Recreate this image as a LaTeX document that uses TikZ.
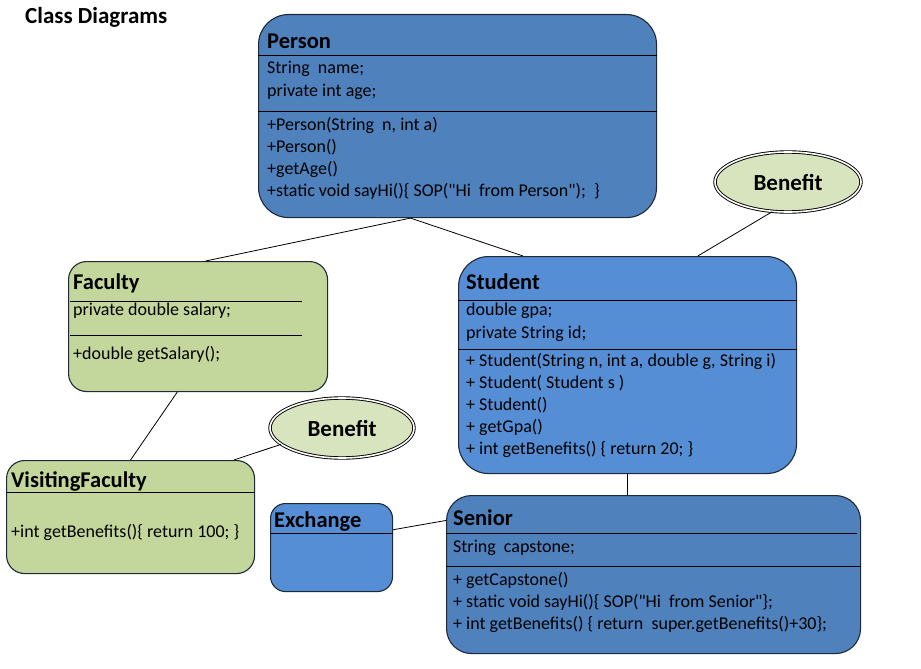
\documentclass[tikz,border=0pt]{standalone}
\usepackage{fontspec}
\setmainfont{Carlito}[Ligatures=TeXOff]
\usetikzlibrary{calc,shapes.geometric}
\definecolor{pblue}{HTML}{4F81BD}
\definecolor{sblue}{HTML}{558ED5}
\definecolor{fgreen}{HTML}{C3D69B}
\definecolor{bgreen}{HTML}{D7E4BD}
\definecolor{edge}{HTML}{1F2A38}
\tikzset{
  cls/.style={draw=edge, line width=1.1pt, rounded corners=#1, anchor=north west, inner sep=0pt},
  txt/.style={anchor=west, inner sep=0pt, font=\fontsize{18}{20}\selectfont, text=black},
  ttl/.style={anchor=west, inner sep=0pt, font=\fontsize{22.5}{24}\selectfont\bfseries, text=black},
  div/.style={draw=black, line width=0.9pt},
  link/.style={draw=black, line width=0.8pt},
  benefit/.style={ellipse, draw=black, line width=0.9pt, double=white, double distance=1.6pt, fill=bgreen, minimum width=142, minimum height=56, inner sep=0pt, font=\fontsize{23}{25}\selectfont\bfseries}
}
\begin{document}
\begin{tikzpicture}[x=1pt,y=-1pt]
\useasboundingbox (0,0) rectangle (921,669);
\fill[white] (0,0) rectangle (921,669);

\node[anchor=west, inner sep=0pt, font=\fontsize{23}{25}\selectfont\bfseries] (title) at (25,17) {Class Diagrams};

% Person
\node[cls=30, fill=pblue, minimum width=398, minimum height=203] (person) at (258,14) {};
\node[ttl] (pT) at (267,41) {Person};
\draw[div] (person.west |- 0,55) -- (person.east |- 0,55);
\node[txt] (p1) at (267,69) {String\ \ name;};
\node[txt] (p2) at (267,92) {private int age;};
\draw[div] (person.west |- 0,111) -- (person.east |- 0,111);
\node[txt] (p3) at (267,125) {+Person(String\ \ n, int a)};
\node[txt] (p4) at (267,147) {+Person()};
\node[txt] (p5) at (267,169) {+getAge()};
\node[txt] (p6) at (267,191) {+static void sayHi()\{ SOP("Hi\ \ from Person"); \ \}};

% Benefit (top)
\node[benefit, minimum width=146, minimum height=60] (ben1) at (788,182) {Benefit};

% Faculty
\node[cls=18, fill=fgreen, minimum width=259, minimum height=130] (fac) at (68,261) {};
\node[ttl] (fT) at (73,283) {Faculty};
\draw[div] (70,301) -- (302,301);
\node[txt] (f1) at (73,311) {private double salary;};
\draw[div] (70,335) -- (302,335);
\node[txt] (f2) at (73,354) {+double getSalary();};

% Student
\node[cls=30, fill=sblue, minimum width=338, minimum height=217] (stu) at (458,256) {};
\node[ttl] (sT) at (466,282) {Student};
\draw[div] (stu.west |- 0,300) -- (stu.east |- 0,300);
\node[txt] (s1) at (466,311) {double gpa;};
\node[txt] (s2) at (466,334) {private String id;};
\draw[div] (stu.west |- 0,349) -- (stu.east |- 0,349);
\node[txt] (s3) at (466,361) {+ Student(String n, int a, double g, String i)};
\node[txt] (s4) at (466,383) {+ Student( Student s )};
\node[txt] (s5) at (466,405) {+ Student()};
\node[txt] (s6) at (466,427) {+ getGpa()};
\node[txt] (s7) at (466,449) {+ int getBenefits() \{ return 20; \}};

% Benefit (middle)
\node[benefit, minimum width=144, minimum height=60] (ben2) at (342,428) {Benefit};

% VisitingFaculty
\node[cls=18, fill=fgreen, minimum width=248, minimum height=113] (vf) at (6,460) {};
\node[ttl] (vT) at (11,481) {VisitingFaculty};
\draw[div] (vf.west |- 0,492) -- (vf.east |- 0,492);
\node[txt] (v1) at (11,532) {+int getBenefits()\{ return 100; \}};

% Exchange
\node[cls=15, fill=sblue, minimum width=122, minimum height=88] (ex) at (270,503) {};
\node[ttl] (eT) at (274,522) {Exchange};
\draw[div] (ex.west |- 0,533) -- (ex.east |- 0,533);

% Senior
\node[cls=25, fill=pblue, minimum width=414, minimum height=158] (sen) at (446,495) {};
\node[ttl] (nT) at (453,518) {Senior};
\draw[div] (446,533) -- (857,533);
\node[txt] (n1) at (453,548) {String\ \ capstone;};
\draw[div] (sen.west |- 0,566) -- (sen.east |- 0,566);
\node[txt] (n2) at (453,580) {+ getCapstone()};
\node[txt] (n3) at (453,602) {+ static void sayHi()\{ SOP("Hi\ \ from Senior"\};};
\node[txt] (n4) at (453,624) {+ int getBenefits() \{ return\ \ super.getBenefits()+30\};};

% connectors
\draw[link] ($(person.south west)!0.382!(person.south east)$) -- ($(fac.north west)!0.529!(fac.north east)$);
\draw[link] ($(person.south west)!0.382!(person.south east)$) -- ($(stu.north west)!0.192!(stu.north east)$);
\draw[link] (ben1.-118) -- ($(stu.north west)!0.707!(stu.north east)$);
\draw[link] ($(fac.south west)!0.42!(fac.south east)$) -- (vf.north);
\draw[link] (ben2.195) -- ($(vf.north west)!0.915!(vf.north east)$);
\draw[link] (stu.south) -- ($(sen.north west)!0.437!(sen.north east)$);
\draw[link] ($(ex.north east)!0.3!(ex.south east)$) -- ($(sen.north west)!0.16!(sen.south west)$);
\end{tikzpicture}
\end{document}
